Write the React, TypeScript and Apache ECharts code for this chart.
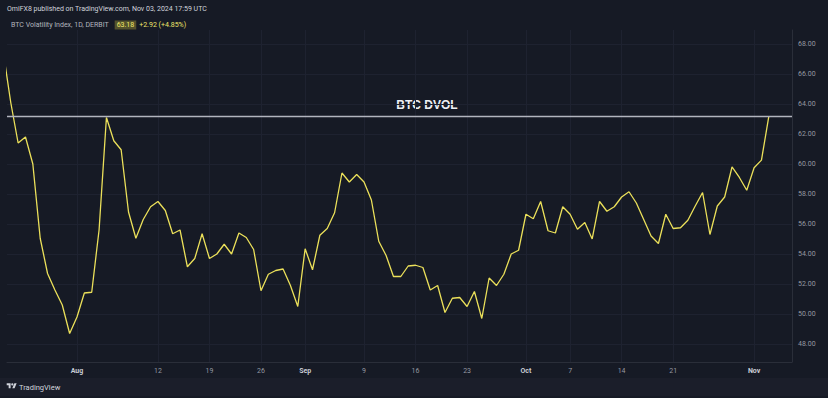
import React, { useEffect, useRef } from "react";
import * as echarts from "echarts";

// Daily BTC DVOL closes, starting 2024-07-22, ending 2024-11-03
const startDate = "2024-07-22";
const values = [
  67.4, 64.1, 61.4, 61.8, 60.0, 55.05, 52.7, 51.6, 50.6, 48.7,
  49.8, 51.4, 51.45, 55.6, 63.1, 61.55, 60.95, 56.8, 55.05, 56.3,
  57.15, 57.5, 56.9, 55.35, 55.6, 53.15, 53.7, 55.35, 53.7, 54.0,
  54.65, 54.0, 55.4, 55.1, 54.3, 51.55, 52.65, 52.9, 53.0, 51.9,
  50.5, 54.35, 52.95, 55.25, 55.7, 56.75, 59.4, 58.8, 59.3, 58.8,
  57.6, 54.85, 53.9, 52.5, 52.5, 53.2, 53.25, 53.1, 51.6, 51.9,
  50.1, 51.05, 51.1, 50.5, 51.5, 49.7, 52.4, 51.9, 52.65, 54.0,
  54.25, 56.65, 56.35, 57.5, 55.55, 55.4, 57.15, 56.65, 55.65, 56.1,
  55.0, 57.5, 56.85, 57.15, 57.8, 58.15, 57.4, 56.3, 55.2, 54.7,
  56.65, 55.7, 55.75, 56.25, 57.2, 58.1, 55.3, 57.2, 57.8, 59.8,
  59.1, 58.25, 59.75, 60.26, 63.18,
];

const xTickDates = [
  "2024-08-01", "2024-08-12", "2024-08-19", "2024-08-26", "2024-09-01",
  "2024-09-09", "2024-09-16", "2024-09-23", "2024-10-01", "2024-10-07",
  "2024-10-14", "2024-10-21", "2024-11-01",
];
const xTickLabels = ["Aug", "12", "19", "26", "Sep", "9", "16", "23", "Oct", "7", "14", "21", "Nov"];
const monthLabels = ["Aug", "Sep", "Oct", "Nov"];
const yTicks = [48, 50, 52, 54, 56, 58, 60, 62, 64, 66, 68];

const lastValue = 63.18;
const changeText = "+2.92 (+4.85%)";
const headerText = "OmiFX8 published on TradingView.com, Nov 03, 2024 17:59 UTC";
const seriesTitle = "BTC Volatility Index, 1D, DERBIT";
const annotation = "BTC DVOL";

const DAY = 86400000;
const parseUTC = (s: string) => {
  const [y, m, d] = s.split("-").map(Number);
  return Date.UTC(y, m - 1, d);
};
const ORIGIN = parseUTC("2024-08-01");
const dayIndex = (s: string) => (parseUTC(s) - ORIGIN) / DAY;

const startIdx = dayIndex(startDate);
const seriesData = values.map((v, i) => [startIdx + i, v]);
const xTickValues = xTickDates.map(dayIndex);

const FONT = "Roboto, 'Noto Sans', sans-serif";

echarts.graphic.registerShape(
  "tvlogo",
  echarts.graphic.extendPath(
    "M14 22H7V11H0V4h14v18zM28 22h-8l7.5-18h8L28 22zM24 8a4 4 0 1 1-8 0a4 4 0 1 1 8 0z",
    {}
  )
);

export default function App() {
  const ref = useRef<HTMLDivElement>(null);

  useEffect(() => {
    if (!ref.current) return;
    const chart = echarts.init(ref.current, null, { renderer: "svg" });
    chart.setOption({
      animation: false,
      backgroundColor: "#161a25",
      grid: { left: 7, right: 36, top: 30, bottom: 36, containLabel: false },
      xAxis: {
        type: "value",
        min: -9.51,
        max: 97.15,
        axisLine: { show: true, onZero: false, lineStyle: { color: "#2a2e39", width: 1 } },
        axisTick: { show: false, customValues: xTickValues },
        splitLine: { show: true, lineStyle: { color: "#1e2230", width: 1 } },
        axisLabel: {
          customValues: xTickValues,
          margin: 5,
          fontSize: 7,
          fontFamily: FONT,
          color: "#9598a1",
          formatter: (v: number) => {
            const i = xTickValues.indexOf(Math.round(v));
            const lab = i >= 0 ? xTickLabels[i] : "";
            return monthLabels.includes(lab) ? `{m|${lab}}` : lab;
          },
          rich: {
            m: { fontSize: 7, fontWeight: "bold", color: "#c9ccd4", fontFamily: FONT },
          },
        },
      },
      yAxis: {
        type: "value",
        position: "right",
        min: 46.8,
        max: 68.933,
        axisLine: { show: true, onZero: false, lineStyle: { color: "#2a2e39", width: 1 } },
        axisTick: { show: false, customValues: yTicks },
        splitLine: { show: true, lineStyle: { color: "#1e2230", width: 1 } },
        axisLabel: {
          customValues: yTicks,
          margin: 6,
          fontSize: 7,
          fontFamily: FONT,
          color: "#9598a1",
          formatter: (v: number) => v.toFixed(2),
        },
      },
      series: [
        {
          type: "line",
          data: seriesData,
          showSymbol: false,
          symbol: "none",
          lineStyle: { color: "#ebe05a", width: 1.3 },
          clip: true,
          markLine: {
            silent: true,
            symbol: "none",
            label: { show: false },
            lineStyle: { color: "#b2b5be", width: 1.3, type: "solid" },
            data: [{ yAxis: lastValue }],
          },
        },
      ],
      graphic: [
        {
          type: "text",
          left: 7,
          top: 5,
          style: {
            text: headerText,
            fill: "#d1d4dc",
            fontSize: 7,
            fontFamily: FONT,
          },
        },
        {
          type: "text",
          left: 11,
          top: 19,
          style: {
            text: `{a|${seriesTitle}}  {b|${lastValue.toFixed(2)}} {c|${changeText}}`,
            fontFamily: FONT,
            rich: {
              a: { fill: "#b2b5be", fontSize: 7, fontFamily: FONT },
              b: {
                fill: "#f2ea6a",
                fontSize: 7,
                fontFamily: FONT,
                backgroundColor: "rgba(200,190,60,0.35)",
                padding: [1, 2, 1, 2],
              },
              c: { fill: "#efe66a", fontSize: 7, fontFamily: FONT },
            },
          },
        },
        {
          type: "text",
          x: 427,
          y: 105,
          style: {
            text: annotation,
            fill: "#eef0f5",
            fontSize: 12,
            fontWeight: "bold",
            fontFamily: "'Liberation Sans', Arial, sans-serif",
            align: "center",
            verticalAlign: "middle",
            lineWidth: 0,
          },
        },
        {
          type: "rect",
          shape: { x: 0, y: 378, width: 828, height: 18 },
          style: { fill: "#1b1e2a" },
          z: -1,
        },
        {
          type: "tvlogo",
          x: 6.7,
          y: 382.2,
          scaleX: 0.28,
          scaleY: 0.28,
          style: { fill: "#d1d4dc" },
        },
        {
          type: "text",
          x: 19,
          y: 387,
          style: {
            text: "TradingView",
            fill: "#d1d4dc",
            fontSize: 7.5,
            fontFamily: FONT,
            verticalAlign: "middle",
          },
        },
      ],
    });
    return () => chart.dispose();
  }, []);

  return (
    <div
      ref={ref}
      style={{ position: "fixed", left: 0, top: 0, width: 828, height: 398 }}
    />
  );
}
